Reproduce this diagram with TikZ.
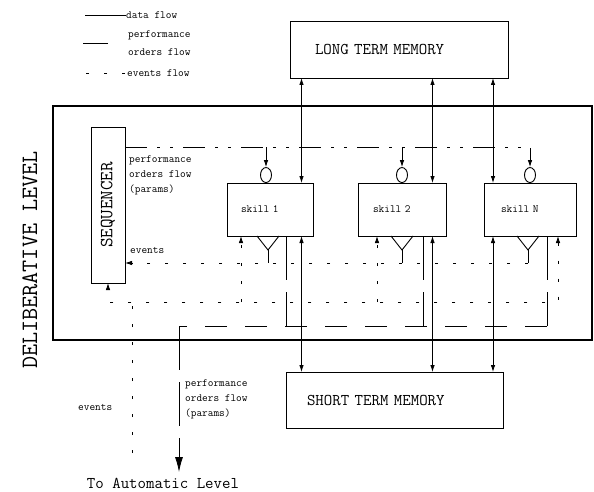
\documentclass[tikz,border=0pt]{standalone}
\usepackage{fontspec}
\usepackage{graphicx}
\usetikzlibrary{arrows.meta,calc,positioning,shapes.geometric}

\newcommand{\ttbig}{\ttfamily\fontsize{16.4}{19}\selectfont}
\newcommand{\ttsmall}{\ttfamily\fontsize{11}{15}\selectfont}

\begin{document}
\begin{tikzpicture}[
  x=1pt,y=-1pt,
  font=\ttsmall,
  box/.style={draw,line width=.9pt,inner sep=0pt,outer sep=0pt,align=left},
  port/.style={draw,ellipse,line width=.9pt,minimum width=11pt,
               minimum height=15pt,inner sep=0pt},
  tip/.style={-{Latex[length=7pt,width=4.5pt]}},
  data/.style={line width=.8pt,
               {Latex[length=7pt,width=4.5pt]}-{Latex[length=7pt,width=4.5pt]}},
  orders/.style={line width=.8pt,dash pattern=on 22pt off 18pt},
  ordersdown/.style={line width=.8pt,dash pattern=on 44pt off 12pt},
  ordertop/.style={line width=.8pt,
                   dash pattern=on 22pt off 10pt on 3pt off 10pt on 3pt off 10pt},
  events/.style={line width=.8pt,dash pattern=on 3.5pt off 14.5pt},
  note/.style={inner sep=0pt,align=left,anchor=west}
]
\useasboundingbox (0,0) rectangle (594,492);

% Legend.
\node[note] (lgdata) at (126,15) {data flow};
\node[note,font=\ttfamily\fontsize{11}{18}\selectfont] (lgorders) at (128,43)
  {performance\\orders flow};
\node[note] (lgevents) at (127,73) {events flow};
\draw[line width=.8pt] (lgdata.west) -- ++(-41,0);
\draw[line width=.8pt] ($(lgorders.west)+(-20,0)$) -- ++(-25,0);
\draw[events] ($(lgevents.west)+(-2,0)$) -- ++(-40,0);

% Memories.
\node[box,anchor=north west,font=\ttbig,text width=168pt,inner xsep=25pt,
      minimum height=57pt] (ltm) at (290,21) {LONG TERM MEMORY};
\node[box,anchor=north west,font=\ttbig,text width=175pt,inner xsep=21pt,
      minimum height=56pt] (stm) at (286,372) {SHORT TERM MEMORY};

% Deliberative level.
\node[draw,line width=2.6pt,minimum width=539pt,minimum height=234pt,
      anchor=north west,inner sep=0pt,outer sep=0pt] (delib) at (53,106) {};
\node[rotate=90,font=\ttfamily\fontsize{23.5}{24}\selectfont,inner sep=0pt]
  (level) at (30,260) {DELIBERATIVE LEVEL};

\node[box,anchor=north west,minimum width=34pt,minimum height=156pt] (seq)
  at (91,127) {\rotatebox{90}{\fontsize{18.5}{19}\selectfont SEQUENCER}};

% Skills.
\node[box,anchor=north west,text width=58pt,inner xsep=14pt,minimum height=53pt]
  (s1) at (227,183) {skill 1};
\node[box,anchor=north west,text width=58pt,inner xsep=15pt,minimum height=53pt]
  (s2) at (358,183) {skill 2};
\node[box,anchor=north west,text width=58pt,inner xsep=17pt,minimum height=53pt]
  (sN) at (484,183) {skill N};
\node[port,above=0pt of s1.north,xshift=-4pt] (c1) {};
\node[port,above=0pt of s2.north] (c2) {};
\node[port,above=0pt of sN.north] (cN) {};
\foreach \s/\dx/\t in {s1/-13/t1,s2/-11/t2,sN/-13/tN}
  \draw[line width=.9pt] ($(\s.south)+(\dx,0)$) -- ++(11,14) coordinate (\t)
    -- ++(11,-14);

% Buses and columns.
\coordinate (ordbus) at (0,147);
\coordinate (evbus) at (0,263);
\coordinate (inbus) at (0,302);
\coordinate (parbus) at (0,326);
\coordinate (d1) at (301.5,0);
\coordinate (d2) at (432.5,0);
\coordinate (dN) at (493,0);
\coordinate (e1) at (241,0);
\coordinate (e2) at (377,0);
\coordinate (eN) at (558,0);
\coordinate (p1) at (286,0);
\coordinate (p2) at (423,0);
\coordinate (pN) at (547,0);
\coordinate (evin) at (132,453);
\coordinate (toauto) at (179,472);

% Data flow.
\foreach \d/\s in {d1/s1,d2/s2,dN/sN}{
  \draw[data] (ltm.south -| \d) -- (\s.north -| \d);
  \draw[data] (\s.south -| \d) -- (stm.north -| \d);
}

% Performance orders from the sequencer.
\draw[ordertop,tip] (seq.east |- ordbus) -| (cN.north);
\foreach \c in {c1,c2}
  \draw[line width=.8pt,tip] (\c.north |- ordbus) -- (\c.north);

% Events to the sequencer.
\foreach \t in {t1,t2,tN}
  \draw[line width=.8pt] (\t) -- (\t |- evbus);
\draw[events,tip] (tN |- evbus) -- (seq.east |- evbus);
\node[note] (evlbl) at (130,250) {events};

% Events from the automatic level.
\draw[events,{Latex[length=7pt,width=4.5pt]}-{Latex[length=7pt,width=4.5pt]}]
  (sN.south -| eN) |- (seq.south |- inbus) -- (seq.south);
\foreach \e/\s in {e1/s1,e2/s2}
  \draw[events,tip] (\e |- inbus) -- (\s.south -| \e);
\draw[events] (evin) -- (evin |- inbus);
\node[note] (evauto) at (78,407) {events};

% Performance orders to the automatic level.
\foreach \p/\s in {p1/s1,p2/s2,pN/sN}
  \draw[ordersdown] (\s.south -| \p) -- (\p |- parbus);
\draw[orders] (pN |- parbus) -- (toauto |- parbus);
\draw[ordersdown,-{Latex[length=15pt,width=8pt]}] (toauto |- parbus) -- (toauto);

\node[note] (ordlbl) at (129,175) {performance\\orders flow\\(params)};
\node[note] (parlbl) at (185,399) {performance\\orders flow\\(params)};
\node[font=\ttbig,inner sep=0pt] (auto) at (163,483) {To Automatic Level};

\end{tikzpicture}
\end{document}
